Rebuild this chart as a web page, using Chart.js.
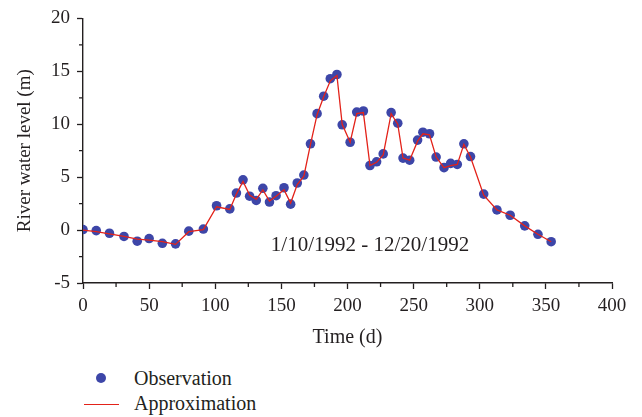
<!DOCTYPE html>
<html>
<head>
<meta charset="utf-8">
<script src="https://cdn.jsdelivr.net/npm/chart.js@4.4.0/dist/chart.umd.min.js"></script>
<style>
  html, body { margin: 0; padding: 0; background: #fff; }
  #wrap { position: relative; width: 642px; height: 417px; }
  #legend { position: absolute; left: 84px; top: 366px; font-family: 'Liberation Serif', serif; font-size: 20px; color: #231f20; }
  .item { position: relative; height: 25px; line-height: 25px; padding-left: 50px; }
  .dot { position: absolute; left: 12px; top: 7px; width: 10px; height: 10px; border-radius: 50%; background: #3D46A8; }
  .ln { position: absolute; left: 0; top: 13px; width: 35px; height: 0; border-top: 1.3px solid #E32219; }
</style>
</head>
<body>
<div id="wrap">
  <canvas id="waterChart" width="642" height="353"></canvas>
  <div id="legend">
    <div class="item"><span class="dot"></span>Observation</div>
    <div class="item"><span class="ln"></span>Approximation</div>
  </div>
</div>
<script>
// River water level, 1/10/1992 - 12/20/1992
const DAYS = [0, 10, 20, 31, 41, 50, 60, 70, 80, 91, 101, 111, 116, 121, 126, 131, 136, 141, 146, 152,
  157, 162, 167, 172, 177, 182, 187, 192, 196, 202, 207, 212, 217, 222, 227, 233, 238, 242, 247, 253,
  257, 262, 267, 273, 278, 283, 288, 293, 303, 313, 323, 334, 344, 354];
const OBSERVED = [0.05, -0.05, -0.3, -0.6, -1.05, -0.8, -1.25, -1.3, -0.1, 0.1, 2.3, 2.0, 3.5, 4.75, 3.2, 2.8, 3.95, 2.65, 3.25, 4.0,
  2.45, 4.45, 5.2, 8.15, 11.0, 12.65, 14.3, 14.7, 9.95, 8.3, 11.15, 11.25, 6.1, 6.45, 7.2, 11.1, 10.1, 6.8, 6.6, 8.5,
  9.25, 9.1, 6.9, 5.9, 6.3, 6.2, 8.15, 6.95, 3.4, 1.9, 1.4, 0.4, -0.4, -1.1];
const APPROX = [0, -0.15, -0.35, -0.6, -0.85, -0.95, -1.1, -1.35, -0.15, 0.05, 2.2, 1.95, 3.4, 4.6, 3.3, 2.9, 3.8, 2.75, 3.2, 3.8,
  2.55, 4.3, 5.1, 8.1, 10.9, 12.6, 14.1, 14.6, 10.0, 8.3, 11.0, 11.1, 6.1, 6.4, 7.1, 11.0, 10.0, 6.8, 6.6, 8.4,
  9.1, 9.0, 6.9, 5.9, 6.1, 6.2, 8.1, 6.9, 3.3, 1.9, 1.4, 0.4, -0.4, -1.1];
const Y_TICKS = [-5, 0, 5, 10, 15, 20];
const X_TICKS = [0, 50, 100, 150, 200, 250, 300, 350, 400];
const PERIOD = '1/10/1992 - 12/20/1992';

const INK = '#231f20';
const BLUE = '#3D46A8';
const RED = '#E32219';
const FONT = 'Liberation Serif';

// minor ticks halfway between the labelled ones, plus the date range note
const extras = {
  id: 'extras',
  afterDraw(chart) {
    const { ctx, scales: { x, y } } = chart;
    ctx.save();
    ctx.strokeStyle = INK;
    ctx.lineWidth = 1.3;
    ctx.beginPath();
    for (let i = 0; i < X_TICKS.length - 1; i++) {
      const px = x.getPixelForValue((X_TICKS[i] + X_TICKS[i + 1]) / 2);
      ctx.moveTo(px, y.bottom);
      ctx.lineTo(px, y.bottom + 4);
    }
    for (let i = 0; i < Y_TICKS.length - 1; i++) {
      const py = y.getPixelForValue((Y_TICKS[i] + Y_TICKS[i + 1]) / 2);
      ctx.moveTo(x.left, py);
      ctx.lineTo(x.left - 4, py);
    }
    ctx.stroke();
    ctx.fillStyle = INK;
    ctx.font = '21px ' + FONT;
    ctx.textAlign = 'center';
    ctx.textBaseline = 'middle';
    ctx.fillText(PERIOD, x.getPixelForValue(217), y.getPixelForValue(-1.45));
    ctx.restore();
  },
};

new Chart(document.getElementById('waterChart'), {
  type: 'scatter',
  data: {
    datasets: [
      {
        label: 'Approximation',
        data: DAYS.map((d, i) => ({ x: d, y: APPROX[i] })),
        showLine: true,
        borderColor: RED,
        borderWidth: 1.3,
        pointRadius: 0,
        tension: 0,
        order: 0,
      },
      {
        label: 'Observation',
        data: DAYS.map((d, i) => ({ x: d, y: OBSERVED[i] })),
        backgroundColor: BLUE,
        borderWidth: 0,
        pointRadius: 4.8,
        order: 1,
      },
    ],
  },
  options: {
    responsive: false,
    animation: false,
    layout: { padding: { top: 13, right: 30, left: 0, bottom: 0 } },
    plugins: { legend: { display: false }, tooltip: { enabled: false } },
    scales: {
      x: {
        type: 'linear',
        min: 0,
        max: 400,
        afterFit(s) { s.height = 70; },
        afterBuildTicks(s) { s.ticks = X_TICKS.map(v => ({ value: v })); },
        border: { color: INK, width: 1.4 },
        grid: { drawOnChartArea: false, tickLength: 6, color: INK, tickWidth: 1.3 },
        ticks: { color: INK, padding: 6, font: { family: FONT, size: 19 } },
        title: { display: true, text: 'Time (d)', color: INK, padding: { bottom: 3 }, font: { family: FONT, size: 20 } },
      },
      y: {
        min: -5,
        max: 20,
        afterFit(s) { s.width = 83; },
        afterBuildTicks(s) { s.ticks = Y_TICKS.map(v => ({ value: v })); },
        border: { color: INK, width: 1.4 },
        grid: { drawOnChartArea: false, tickLength: 6, color: INK, tickWidth: 1.3 },
        ticks: { color: INK, padding: 7, font: { family: FONT, size: 19 } },
        title: { display: true, text: 'River water level (m)', color: INK, padding: { top: 14 }, font: { family: FONT, size: 19 } },
      },
    },
  },
  plugins: [extras],
});
</script>
</body>
</html>
